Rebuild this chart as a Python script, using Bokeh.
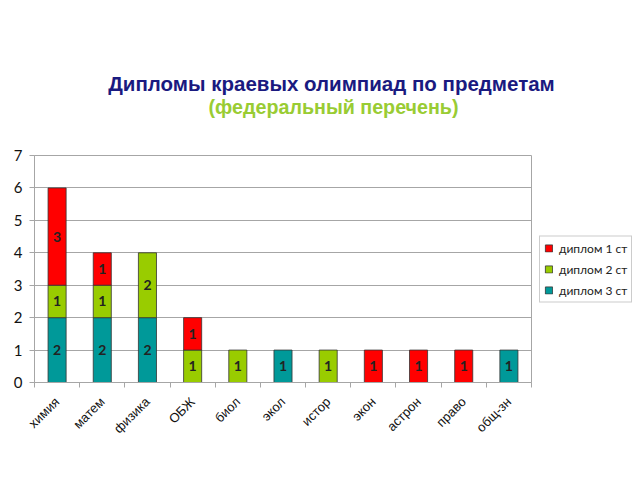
import math
import numpy as np
from bokeh.plotting import figure
from bokeh.layouts import row, column
from bokeh.models import (Range1d, FixedTicker, Label, Legend, LegendItem, ColumnDataSource)
from bokeh.embed import file_html
from bokeh.resources import INLINE

categories = ["химия", "матем", "физика", "ОБЖ", "биол", "экол", "истор", "экон", "астрон", "право", "общ-зн"]
diploma1 = [3, 1, 0, 1, 0, 0, 0, 1, 1, 1, 0]   # диплом 1 ст (red, top)
diploma2 = [1, 1, 2, 1, 1, 0, 1, 0, 0, 0, 0]   # диплом 2 ст (green, middle)
diploma3 = [2, 2, 2, 0, 0, 1, 0, 0, 0, 0, 1]   # диплом 3 ст (teal, bottom)
series_names = ["диплом 1 ст", "диплом 2 ст", "диплом 3 ст"]
y_ticks = [0, 1, 2, 3, 4, 5, 6, 7]
title_line1 = "Дипломы краевых олимпиад по предметам"
title_line2 = "(федеральный перечень)"

RED, GREEN, TEAL = "#ff0000", "#99cc00", "#009999"
GRID = "#a6a6a6"

n = len(categories)
xs = np.arange(n)

# ---- title strip ----
top = figure(width=640, height=145, output_backend="svg", toolbar_location=None,
             x_range=Range1d(0, 640), y_range=Range1d(0, 145), min_border=0,
             outline_line_color=None, title=None)
top.axis.visible = False
top.grid.visible = False
top.add_layout(Label(x=331, y=145 - 83, text=title_line1, text_align="center",
                     text_baseline="middle", text_font="Liberation Sans", text_font_style="bold",
                     text_font_size="20.5px", text_color="#1a1a80"))
top.add_layout(Label(x=333, y=145 - 106, text=title_line2, text_align="center",
                     text_baseline="middle", text_font="Liberation Sans", text_font_style="bold",
                     text_font_size="19.7px", text_color="#99cc33"))

# ---- chart ----
p = figure(width=536, height=335, output_backend="svg", toolbar_location=None,
           x_range=Range1d(-0.5, n - 0.5), y_range=Range1d(0, 7),
           min_border_left=34, min_border_right=5, min_border_bottom=98, min_border_top=10,
           title=None)
p.outline_line_color = GRID
p.background_fill_color = "white"

bottoms = np.zeros(n)
for name, vals, col in [(series_names[2], diploma3, TEAL), (series_names[1], diploma2, GREEN),
                        (series_names[0], diploma1, RED)]:
    vals = np.array(vals, dtype=float)
    mask = vals > 0
    src = ColumnDataSource(dict(x=xs[mask], top=(bottoms + vals)[mask], bottom=bottoms[mask],
                                y=(bottoms + vals / 2)[mask],
                                t=[str(int(v)) for v in vals[mask]]))
    p.vbar(x="x", bottom="bottom", top="top", width=0.4, source=src,
           fill_color=col, line_color="#333333", line_width=0.8)
    p.text(x="x", y="y", text="t", source=src, text_align="center", text_baseline="middle",
           text_font_size="14px", text_font_style="bold", text_color="#222222",
           text_font={"value": "Lato"})
    bottoms = bottoms + vals

p.xaxis.ticker = FixedTicker(ticks=list(xs), minor_ticks=list(np.arange(n + 1) - 0.5))
p.xaxis.major_label_overrides = {int(i): c for i, c in zip(xs, categories)}
p.xaxis.major_label_orientation = math.pi / 4
p.xaxis.major_tick_out = 0
p.xaxis.major_tick_in = 0
p.xaxis.minor_tick_out = 5
p.xaxis.minor_tick_in = 0
p.xaxis.minor_tick_line_color = GRID
p.xaxis.axis_line_color = GRID
p.xaxis.major_label_text_font = "Liberation Sans"
p.xaxis.major_label_text_font_size = "13px"
p.xaxis.major_label_text_color = "#111111"
p.xaxis.major_label_standoff = 12
p.xgrid.grid_line_color = None

p.yaxis.ticker = FixedTicker(ticks=y_ticks)
p.yaxis.minor_tick_line_color = None
p.yaxis.major_tick_out = 5
p.yaxis.major_tick_in = 0
p.yaxis.major_tick_line_color = GRID
p.yaxis.axis_line_color = GRID
p.yaxis.major_label_text_font = "Lato"
p.yaxis.major_label_text_font_size = "15px"
p.yaxis.major_label_text_color = "#111111"
p.yaxis.major_label_standoff = 7
p.ygrid.grid_line_color = GRID

# ---- legend in a companion figure with the same vertical frame ----
leg = figure(width=104, height=335, output_backend="svg", toolbar_location=None,
             x_range=Range1d(0, 1), y_range=Range1d(0, 1),
             min_border_left=0, min_border_right=0, min_border_top=10, min_border_bottom=98,
             outline_line_color=None, title=None)
leg.axis.visible = False
leg.grid.visible = False
items = []
for nm, col in zip(series_names, [RED, GREEN, TEAL]):
    r = leg.vbar(x=[50], bottom=[0.4], top=[0.5], width=0.4, fill_color=col,
                 line_color="#333333", line_width=0.8)
    items.append(LegendItem(label=nm, renderers=[r]))
legend = Legend(items=items, location="center_left", label_text_font="Lato",
                label_text_font_size="12px", label_text_color="#222222",
                glyph_width=9, glyph_height=9, label_height=14, spacing=6,
                label_standoff=6, padding=4, margin=3,
                border_line_color="#999999", background_fill_alpha=1)
leg.add_layout(legend, "center")

open("out.html", "w").write(file_html(column(top, row(p, leg)), INLINE))
